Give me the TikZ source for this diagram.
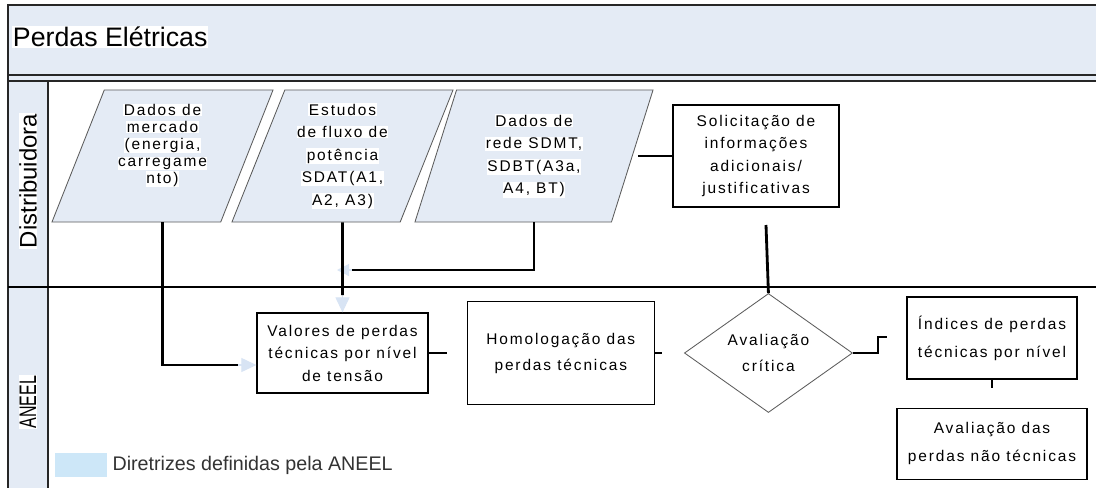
\documentclass[tikz,border=0pt]{standalone}
\usepackage{fontspec}
\setmainfont{Liberation Sans}
\newfontfamily\boxfont[LetterSpace=12]{Liberation Sans}
\usetikzlibrary{positioning,shapes.geometric,arrows.meta}
\definecolor{lanefill}{HTML}{E4EBF5}
\definecolor{legfill}{HTML}{CDE7F8}
\definecolor{fadeblue}{HTML}{D8E4F4}
\definecolor{edgegray}{HTML}{5C5C5C}
\newcommand{\hl}[1]{{\setlength{\fboxsep}{0.4pt}\colorbox{white}{#1}}}

\begin{document}
\begin{tikzpicture}[
    x=0.025cm, y=-0.025cm,
    node distance = 7mm and 9.5mm,
    frame/.style     = {line width=1.2pt,
                        draw=black!85},
    parastyle/.style = {draw=edgegray,
                        fill=lanefill,
                        line width=0.6pt,
                        trapezium,
                        trapezium left angle=63.4,
                        trapezium right angle=116.6,
                        trapezium stretches body,
                        minimum width=55.25mm,
                        minimum height=33mm,
                        align=center,
                        inner sep=0pt,
                        font=\boxfont\fontsize{11}{16}\selectfont},
    boxstyle/.style  = {draw,
                        line width=0.9pt,
                        align=center,
                        inner sep=0pt,
                        font=\boxfont\fontsize{11}{16}\selectfont},
    lanelabel/.style = {rotate=90,
                        fill=white,
                        inner sep=0.5pt,
                        font=\fontsize{17}{20}\selectfont},
    conn/.style      = {line width=2pt},
    fade/.style      = {draw=fadeblue,
                        line width=0.8pt,
                        -{Triangle[length=3.75mm, width=3.5mm]}}
]
\useasboundingbox (0,0) rectangle (1096,488);
\fill[white] (0,0) rectangle (1096,488);
\fill[lanefill] (8,5) rectangle (1096,81);
\fill[lanefill] (8,81) rectangle (48,488);
\draw[frame] (1096,5) -- (8,5) -- (8,488);
\draw[frame] (8,75) -- (1096,75);
\draw[frame] (8,81) -- (1096,81);
\draw[frame] (48,81) -- (48,488);
\draw[line width=0.9pt] (8,287) -- (1096,287);

\node (title) [anchor=west, fill=white, inner sep=0.5pt,
               font=\fontsize{19}{22}\selectfont] at (12,37) {Perdas Elétricas};
\node (lanedist) [lanelabel] at (28,181) {Distribuidora};
\node (laneaneel) [lanelabel] at (28,402) {\scalebox{0.67}[1]{ANEEL}};

\node (p1) [parastyle, font=\boxfont\fontsize{11}{12}\selectfont] at (162.5,156) {
\hl{Dados de}\\ \hl{mercado}\\ \hl{(energia,}\\ \hl{carregame}\\
\hl{nto)}\rule[-6.3mm]{0pt}{0pt}
};
\node (p2) [parastyle] at (342.5,156) {
\hl{Estudos}\\ \hl{de fluxo de}\\ \hl{potência}\\ \hl{SDAT(A1,}\\ \hl{A2, A3)}
};
\node (p3) [parastyle, minimum width=59.5mm] at (534,156) {
\hl{Dados de}\\ \hl{rede SDMT,}\\ \hl{SDBT(A3a,}\\ \hl{A4, BT)}
};
\node (sol) [boxstyle, minimum width=41.5mm, minimum height=25.5mm] at (756,156) {
Solicitação de\\ informações\\ adicionais/\\ justificativas
};

\node (val) [boxstyle, minimum width=42.75mm, minimum height=20mm] at (342.5,353) {
Valores de perdas\\ técnicas por nível\\ de tensão
};
\node (hom) [boxstyle, right=of val, minimum width=46.75mm, minimum height=25.75mm,
             font=\boxfont\fontsize{11}{18.5}\selectfont] {
Homologação das\\ perdas técnicas
};
\node (dia) [diamond, draw=edgegray, line width=0.6pt, right=7.25mm of hom,
             minimum width=42mm, minimum height=26mm, inner sep=0pt, align=center,
             font=\boxfont\fontsize{11}{18.5}\selectfont] {
Avaliação\\ crítica
};
\node (idx) [boxstyle, minimum width=42.5mm, minimum height=20.5mm,
             font=\boxfont\fontsize{11}{20}\selectfont] at (992,338) {
Índices de perdas\\ técnicas por nível
};
\node (ava) [boxstyle, below=of idx, minimum width=47.5mm, minimum height=17.75mm,
             font=\boxfont\fontsize{11}{20}\selectfont] {
Avaliação das\\ perdas não técnicas
};

\node (legbox) [fill=legfill, minimum width=13mm, minimum height=6mm, inner sep=0pt] at (81,465) {};
\node (legtxt) [right=1.25mm of legbox, inner sep=0pt, text=black!80,
                font=\fontsize{14}{16}\selectfont] {Diretrizes definidas pela ANEEL};

\coordinate (v1) at (238,365);
\coordinate (v2) at (342.5,295);
\coordinate (v3) at (352,270);
\coordinate (v3tip) at (337,270);
\coordinate (solin) at (638,156);
\coordinate (solout) at (766,225);
\coordinate (valout) at (447,353);
\coordinate (homout) at (662,353);
\coordinate (bend) at (878,337);
\coordinate (idxin) at (887,337);
\coordinate (idxout) at (992,388);

\draw[fade] (v1) -- (v1 -| val.west);
\draw[fade] (v2) -- (val.north);
\draw[fade, -{Triangle[length=3mm, width=3mm]}] (v3) -- (v3tip);
\draw[conn] (p1.south) |- (v1);
\draw[conn] (p2.south) -- (v2);
\draw[conn] (p3.south) |- (v3);
\draw[conn] (solin) -- (sol.west);
\draw[conn] (solout) -- (dia.north);
\draw[conn] (val.east) -- (valout);
\draw[conn] (hom.east) -- (homout);
\draw[conn] (dia.east) -| (bend) -- (idxin);
\draw[conn] (idx.south) -- (idxout);
\end{tikzpicture}
\end{document}
